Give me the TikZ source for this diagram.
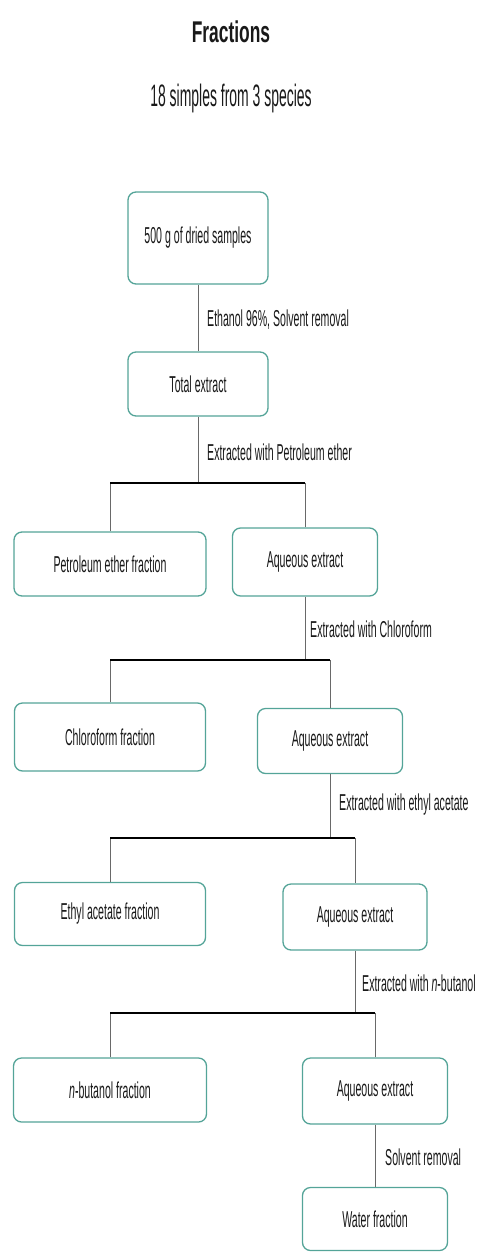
\documentclass[tikz,border=0pt]{standalone}
\usepackage{fontspec}
\setmainfont{Liberation Sans}
\usepackage{graphicx}
\usepackage{xcolor}
\definecolor{fxteal}{RGB}{84,164,152}
\definecolor{fxgray}{RGB}{105,105,105}
\definecolor{fxtext}{RGB}{25,25,25}
\usetikzlibrary{positioning, calc}
\newcommand{\sqz}[1]{\scalebox{0.46}[1]{#1}}
\tikzset{
  fracbox/.style={draw=fxteal, line width=1.3pt, rounded corners=8pt, fill=white, inner sep=0pt, font=\fontsize{23}{25}\selectfont, text=fxtext},
  link/.style={draw=fxgray, line width=0.9pt},
  bar/.style={draw=black, line width=1.8pt},
  note/.style={anchor=west, inner sep=0pt, font=\fontsize{23}{25}\selectfont, text=fxtext},
}

\begin{document}
\begin{tikzpicture}[x=1pt, y=-1pt]
  \useasboundingbox (0,0) rectangle (477,1253);

  % Title
  \node[font=\fontsize{30}{32}\selectfont\bfseries, text=fxtext] (title) at (231,32) {\scalebox{0.58}[1]{Fractions}};
  \node[font=\fontsize{31}{33}\selectfont, text=fxtext] (subtitle) at (231,98) {\scalebox{0.45}[1]{18 simples from 3 species}};

  % Start
  \node[fracbox, minimum width=140pt, minimum height=92pt] (samples) at (198,238) {\sqz{500 g of dried samples}};
  \node[fracbox, minimum width=140pt, minimum height=64pt] (total) at (198,384) {\sqz{Total extract}};
  \draw[link] (samples.south) -- (total.north);
  \node[note] (n1) at (207,320) {\sqz{Ethanol 96\%, Solvent removal}};

  % Step 1
  \node[fracbox, minimum width=192pt, minimum height=64pt] (petfrac) at (110,564) {\sqz{Petroleum ether fraction}};
  \node[fracbox, minimum width=145pt, minimum height=68pt] (aq1) at (305,562) {\sqz{Aqueous extract}};
  \coordinate (b1) at (198,483);
  \draw[link] (total.south) -- (b1);
  \draw[link] (petfrac.north) -- (petfrac.north |- b1);
  \draw[link] (aq1.north) -- (aq1.north |- b1);
  \draw[bar] (petfrac.north |- b1) -- (aq1.north |- b1);
  \node[note] (n2) at (207,452) {\sqz{Extracted with Petroleum ether}};

  % Step 2
  \node[fracbox, minimum width=191pt, minimum height=68pt] (chlfrac) at (110,737) {\sqz{Chloroform fraction}};
  \node[fracbox, minimum width=145pt, minimum height=65pt] (aq2) at (330,741) {\sqz{Aqueous extract}};
  \coordinate (b2) at (305,660);
  \draw[link] (aq1.south) -- (b2);
  \draw[link] (chlfrac.north) -- (chlfrac.north |- b2);
  \draw[link] (aq2.north) -- (aq2.north |- b2);
  \draw[bar] (chlfrac.north |- b2) -- (aq2.north |- b2);
  \node[note] (n3) at (310,629) {\sqz{Extracted with Chloroform}};

  % Step 3
  \node[fracbox, minimum width=191pt, minimum height=63pt] (ethfrac) at (110,914) {\sqz{Ethyl acetate fraction}};
  \node[fracbox, minimum width=144pt, minimum height=66pt] (aq3) at (355,917) {\sqz{Aqueous extract}};
  \coordinate (b3) at (330,838);
  \draw[link] (aq2.south) -- (b3);
  \draw[link] (ethfrac.north) -- (ethfrac.north |- b3);
  \draw[link] (aq3.north) -- (aq3.north |- b3);
  \draw[bar] (ethfrac.north |- b3) -- (aq3.north |- b3);
  \node[note] (n4) at (339,805) {\sqz{Extracted with ethyl acetate}};

  % Step 4
  \node[fracbox, minimum width=193pt, minimum height=64pt] (butfrac) at (110,1090) {\sqz{\textit{n}-butanol fraction}};
  \node[fracbox, minimum width=145pt, minimum height=66pt] (aq4) at (375,1091) {\sqz{Aqueous extract}};
  \coordinate (b4) at (355,1013);
  \draw[link] (aq3.south) -- (b4);
  \draw[link] (butfrac.north) -- (butfrac.north |- b4);
  \draw[link] (aq4.north) -- (aq4.north |- b4);
  \draw[bar] (butfrac.north |- b4) -- (aq4.north |- b4);
  \node[note] (n5) at (362,983) {\sqz{Extracted with \textit{n}-butanol}};

  % Last
  \node[fracbox, minimum width=145pt, minimum height=63pt] (water) at (375,1219) {\sqz{Water fraction}};
  \draw[link] (aq4.south) -- (water.north);
  \node[note] (n6) at (385,1157) {\sqz{Solvent removal}};
\end{tikzpicture}
\end{document}
